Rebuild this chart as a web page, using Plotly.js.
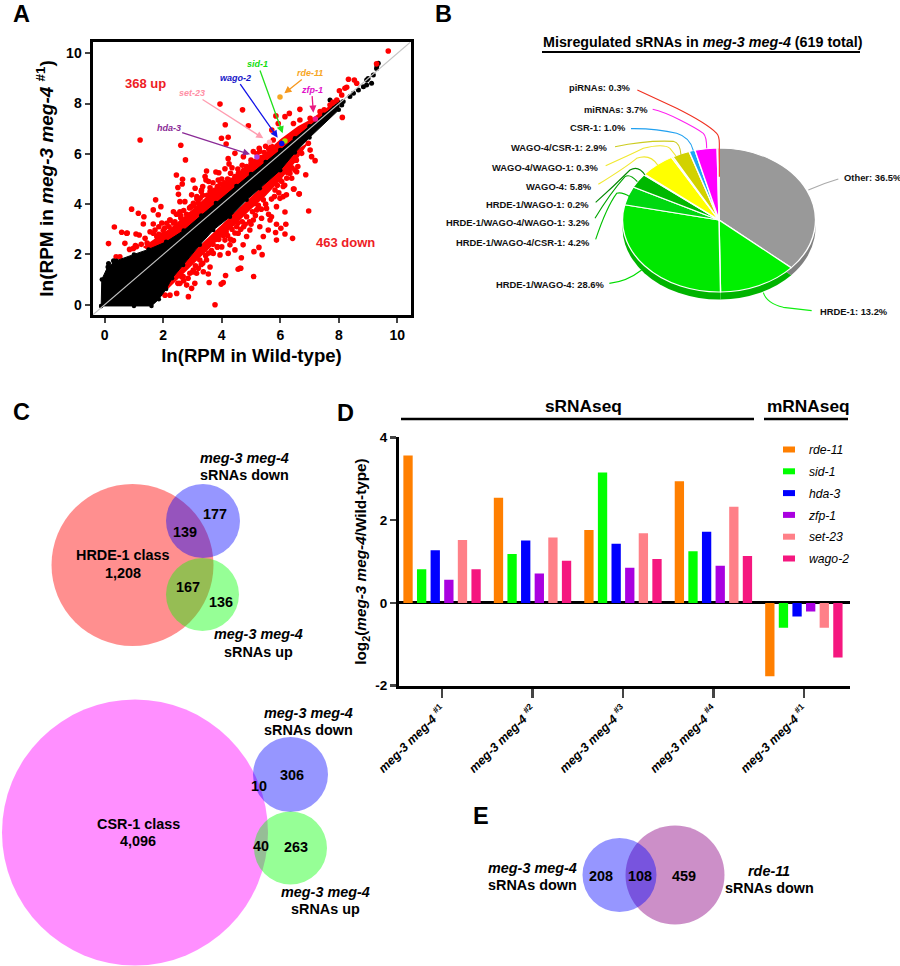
<!DOCTYPE html>
<html><head><meta charset="utf-8">
<script src="https://cdn.plot.ly/plotly-3.0.1.min.js"></script>
<style>html,body{margin:0;padding:0;background:#fff}</style>
</head><body><div id="chart" style="width:900px;height:966px"></div>
<script>
// ---------- Panel A values (ln RPM) ----------
const blackTopX=[-0.12,-0.1,0.1,0.4,1,1.5,2.1,2.7,3.3,3.8,4.5,5,5.5,6,6.5,7,7.5,8];
const blackTopY=[-0.05,1.0,1.5,1.75,2.0,2.2,2.5,2.95,3.55,4.05,4.72,5.2,5.68,6.15,6.62,7.1,7.6,8.05];
const blackLowX=[8,7,6.5,6,5.3,4.85,4.28,3.71,3.25,2.68,2.3,2.1,1.85,1.6,1,-0.12];
const blackLowY=[7.75,6.65,6.05,5.35,4.63,4.17,3.5,2.97,2.38,1.58,1.05,0.62,0.22,-0.05,-0.05,-0.05];
const blackTailX=[7.7,8.95,9.12,9.18,9.35,9.29,8.67,8.38,8.15,7.93,8.95,8.84,8.5,7.81,7.53,8.1,0.13,0.3,9.3,9.0];
const blackTailY=[8.14,8.74,8.81,9.14,9.6,9.4,8.54,8.28,8.08,7.88,8.94,8.67,8.41,7.81,7.61,7.94,1.64,1.75,9.5,9.0];
const upBandX=[1.3,1.8,2.3,2.92,3.6,4.17,4.85,5.53,6,6.6,7,7.5,8,8,7,6,5,4,3,2.1,1.5];
const upBandY=[2.3,2.7,3.1,3.72,4.42,4.9,5.5,6.08,6.58,7.1,7.35,7.75,8.2,8.0,7.05,6.1,5.15,3.75,3.1,2.45,2.15];
const lowBandX=[2.1,2.5,3,3.5,4,4.5,5,5.5,6,6.5,7,6.5,6,5,4,3.2,2.6,2];
const lowBandY=[0.55,1.0,1.55,2.15,2.72,3.22,3.8,4.32,4.95,5.65,6.5,6.1,5.4,4.3,3.2,2.3,1.5,0.65];
const redUpX=[1.21,2.6,2.76,4.12,4.91,3.99,4.22,4.15,4.22,4.45,4.74,5.08,5.28,2.45,2.66,2.65,3.02,2.5,3.48,3.8,4.11,3.43,3.46,3.88,4.3,4.57,4.91,3.09,3.31,3.77,2.52,2.57,2.74,2.97,1.74,0.92,1.15,1.66,1.92,1.34,1.83,1.32,0.33,0.58,0.77,1.07,1.18,1.38,1.66,1.72,2.23,2.57,3.03,3.26,3.6,3.94,4.71,0.52,0.39,0.98,1.09,0.69,0.13,0.75,1.66,1.78,2,2.35,2.12,2.23,2.9,3.15,3.7,4,4.35,4.7,5.0,5.2,3.35,3.55,3.9,4.25,2.8,2.6,2.35,2.05,1.85,1.55,1.25,0.85,1.05,1.45,
 2.95,3.05,3.2,3.15,3.35,3.5,3.6,3.75,3.85,3.95,4.1,4.2,4.3,4.45,4.6,4.55,4.75,4.85,5.0,5.15,5.35,5.45,5.6,5.7,2.7,2.6,2.4,2.2,2.0,1.85,1.95,2.45,3.3];
const redUpY=[6.55,6.34,5.76,7.16,7.12,6.62,6.66,6.39,5.81,6.02,5.89,6.09,6.22,5.16,4.99,4.8,4.96,4.66,5.32,5.28,5.41,5.1,4.96,4.96,5.23,5.23,5.36,4.63,4.56,4.54,4.39,4.1,4.1,4.37,4.17,3.8,3.64,3.77,3.9,3.5,3.58,3.21,3.09,2.88,2.85,2.81,2.77,2.64,3.21,2.97,3.37,3.7,4.03,4.23,4.5,7.98,7.75,1.91,1.91,2.24,2.31,2.44,2.43,2.84,2.84,2.71,2.77,3.7,3.24,3.37,3.85,4.2,4.85,5.0,5.45,5.55,5.75,6.0,4.7,4.9,5.25,5.6,3.6,3.45,3.25,3.05,3.1,2.9,2.4,2.2,2.35,2.45,
 3.9,3.95,4.05,4.3,4.35,4.35,4.65,4.55,4.7,4.8,4.85,5.0,4.95,5.1,5.25,5.4,5.35,5.5,5.6,5.7,5.85,6.05,6.2,6.3,3.75,3.55,3.3,3.1,2.95,2.8,3.25,3.6,4.5];
const redLowX=[6.97,6.87,6.65,6.47,6.16,6.42,6.19,5.87,6.02,6.16,5.84,5.87,5.42,5.27,5.1,5.38,4.67,4.65,4.56,5.09,4.13,4.05,3.98,3.57,3.08,3.37,3.54,2.91,2.68,3.94,4.22,4.45,4.73,4.96,5.3,5.59,5.65,5.36,5.08,4.85,4.56,4.28,3.71,3.48,3.25,3.03,5.99,6.21,5.87,5.53,5.19,4.85,4.51,4.11,6.33,6.56,6.1,5.82,5.59,5.42,5.13,5.99,2.57,2.8,2.86,3.77,2.23,2.46,2.06,2.63,3.14,4.62,6.96,7.02,7.07,7.19,6.73,6.45,8.12,6.33,6.5,6.39,6.22,6.1,6.45,6.64,2.97,3.3,3.6,3.85,4.15,4.4,4.75,5.0,5.25,5.7,3.4,3.8,4.4,4.9,
 2.5,2.7,2.85,3.0,3.1,3.2,3.35,3.45,3.55,3.65,3.7,3.85,3.9,4.0,4.05,4.2,4.3,4.35,4.45,4.55,4.65,4.7,4.8,4.95,5.05,5.15,5.25,5.35,5.5,5.6,5.7,5.8,5.9,5.95,6.05,6.15,6.25,6.4,6.55,6.6];
const redLowY=[3.73,5.17,4.41,4.6,3.69,2.64,3.2,3.2,3.04,2.81,2.87,2.57,2.71,2.28,2.11,1.99,1.87,1.45,1.41,1.12,1.16,0.88,0.82,0.88,0.85,1.31,1.22,1.25,1.12,1.98,2.04,2.18,2.38,2.97,3.1,2.97,3.37,3.44,3.37,2.71,2.84,2.38,2.04,1.78,1.78,1.38,4.23,4.37,3.9,3.83,3.77,3.5,3.1,2.57,5.23,5.29,4.7,4.56,4.83,4.17,4.03,4.96,0.85,0.78,0.32,0,0.38,0.45,0.38,1.11,1.25,1.45,6.42,6.15,5.89,5.73,6.02,5.76,7.45,5.42,5.36,5.03,5.03,4.3,4.6,4.4,0.65,1.6,1.5,2.3,2.9,2.55,3.1,3.2,4.4,3.5,2.2,2.6,3.55,3.95,
 0.85,0.95,1.05,1.3,1.55,1.45,1.65,1.95,2.05,2.15,2.4,2.3,2.6,2.3,2.75,2.75,2.6,3.0,2.85,3.25,3.0,3.3,3.2,3.3,3.7,3.55,3.95,3.8,4.0,3.6,4.2,4.3,4.75,4.45,4.9,4.75,5.25,5.45,5.75,5.5];
const redTopX=[9.69,9.29,8.33,8.53,8.61,8.02,8.27,8.1,8.21,7.93,7.7,7.36,6.67,6.16,6.31,5.85,5.93,5.71,6.45,6.67,7.02,5.76,7.5,7.8,5.5,5.3];
const redTopY=[10.09,9.58,8.97,8.94,8.81,8.51,8.65,8.34,8.61,8.14,7.94,7.68,7.77,7.48,7.61,7.51,7.21,6.95,7.21,7.35,7.41,6.55,7.75,8.05,6.3,6.1];
const geneNames=['rde-11','sid-1','wago-2','set-23','hda-3','zfp-1'];
const geneX=[5.99,6.16,6.05,5.63,5.2,7.2];
const geneY=[8.26,6.51,6.41,6.46,5.88,7.39];
const upCount='368 up', downCount='463 down';

// ---------- Panel B values ----------
const pieLabels=['Other','HRDE-1','HRDE-1/WAGO-4','HRDE-1/WAGO-4/CSR-1','HRDE-1/WAGO-4/WAGO-1','HRDE-1/WAGO-1','WAGO-4','WAGO-4/WAGO-1','WAGO-4/CSR-1','CSR-1','miRNAs','piRNAs'];
const pieValues=[36.5,13.2,28.6,4.2,3.2,0.2,5.8,0.3,2.9,1.0,3.7,0.3];

// ---------- Panel C / E counts ----------
const hrdeCounts=['1,208','139','177','167','136'];
const csrCounts=['4,096','10','306','40','263'];
const rdeCounts=['208','108','459'];

// ---------- Panel D values ----------
const barGenes=['rde-11','sid-1','hda-3','zfp-1','set-23','wago-2'];
const rde11=[3.56,2.54,1.76,2.94,-1.77];
const sid1=[0.81,1.18,3.15,1.25,-0.6];
const hda3=[1.27,1.51,1.43,1.72,-0.33];
const zfp1=[0.56,0.71,0.85,0.9,-0.21];
const set23=[1.52,1.58,1.68,2.32,-0.6];
const wago2=[0.81,1.02,1.06,1.13,-1.32];
const sampleIdx=[0,1,2,3,4];
const sampleLabels=['#1','#2','#3','#4','#1'];

// ---------- helpers ----------
const W=900,H=966,FONT='"Liberation Sans",Arial,sans-serif';
const PX=x=>x/W, PY=y=>1-y/H;
const annotations=[], shapes=[];
function T(x,y,text,size,color,anchor){annotations.push({xref:'paper',yref:'paper',x:PX(x),y:PY(y),text,showarrow:false,xanchor:anchor||'center',yanchor:'middle',font:{size:size||13,color:color||'#000',family:FONT}});}
function B(s){return '<b>'+s+'</b>';}
function BI(s){return '<b><i>'+s+'</i></b>';}
function circle(cx,cy,r,fill){shapes.push({type:'circle',xref:'paper',yref:'paper',x0:PX(cx-r),x1:PX(cx+r),y0:PY(cy+r),y1:PY(cy-r),fillcolor:fill,line:{width:0},layer:'above'});}
function rule(x0,y,x1,w){shapes.push({type:'line',xref:'paper',yref:'paper',x0:PX(x0),x1:PX(x1),y0:PY(y),y1:PY(y),line:{color:'#000',width:w||2},layer:'above'});}
function leader(d,color){let i=0;const p=d.replace(/-?\d+(\.\d+)?/g,m=>{const v=+m;const o=(i++%2===0)?PX(430+v/3):PY(v/3);return o.toFixed(5);});
 shapes.push({type:'path',xref:'paper',yref:'paper',path:p,line:{color,width:1.1},layer:'above'});}

// ---------- letters ----------
[['A',21,14],['B',443,14],['C',21,412],['D',345,413],['E',481,816]].forEach(a=>T(a[1],a[2],B(a[0]),23.5));

// ---------- Panel A annotations ----------
T(145,83,B(upCount),13,'#ee1c25');T(345,243,B(downCount),13,'#ee1c25');
const geneColors=['#f7a623','#a8e000','#0a0ae6','#ffb3bd','#b040e0','#f0188c'];
const arrowColors=['#f7981d','#22e01c','#1414e8','#ff9db0','#8a2a96','#ea1a80'];
const textColors=['#f7a623','#10dd10','#1414c8','#ff8fa5','#8a2a96','#e010c8'];
const arrows=[[930,219,853,280],[773,192,848,400],[707,233,833,413],[577,279,790,415],[506,385,750,463],[935,269,940,338]];
arrows.forEach((a,i)=>{annotations.push({xref:'x',yref:'y',x:(a[2]-314)/87.8,y:(914-a[3])/75.4,ax:(a[0]-a[2])/3,ay:(a[1]-a[3])/3,axref:'pixel',ayref:'pixel',
 text:BI(geneNames[i]),showarrow:true,arrowhead:2,arrowsize:1.1,arrowwidth:1.3,arrowcolor:arrowColors[i],standoff:0,font:{size:9,color:textColors[i],family:FONT}});});

// ---------- Panel B text ----------
T(703,42,B('Misregulated sRNAs in <i>meg-3 meg-4</i> (619 total)'),14.3);
rule(542,52,860,2);
const pieLabelPos=[[842,178,'left'],[818,311,'left'],[606,284,'right'],[592,242,'right'],[592,222,'right'],[591,205,'right'],[594,186,'right'],[600,167.5,'right'],[610,147.5,'right'],[628,128,'right'],[650,109,'right'],[633,87,'right']];
pieLabels.forEach((l,i)=>{const p=pieLabelPos[i];T(p[0],p[1],B(l+': '+pieValues[i].toFixed(1)+'%'),9.4,'#111',p[2]);});
leader('M622 270 L740 325 Q830 370 860 400 Q868 408 868 430 L868 530','#f03020');
leader('M668 328 Q700 335 750 360 Q800 385 820 400 Q830 410 830 445','#ff20f0');
leader('M603 386 Q680 385 740 400 Q780 412 790 452','#20a0f0');
leader('M555 440 Q650 420 730 424 Q750 428 753 465','#cccc20');
leader('M527 497 Q600 465 640 445 Q700 430 720 445 L738 468','#f0e830');
leader('M505 553 Q590 500 620 475 Q660 460 683 495','#f0e830');
leader('M497 607 Q550 560 600 510 Q625 495 645 525','#008800');
leader('M495 655 Q540 580 585 530 Q600 520 622 545','#00a400');
leader('M497 718 Q530 620 560 580 Q575 575 600 590','#00c000');
leader('M538 850 Q590 845 635 810','#00dd00');
leader('M1000 878 Q1010 910 1060 922 L1145 932','#10ee10');
leader('M1135 570 Q1180 550 1225 537','#aaaaaa');

// ---------- Panel C and E ----------
const RED='rgba(255,0,0,0.44)',BLU='rgba(0,0,255,0.41)',GRN='rgba(0,255,0,0.41)',MAG='rgba(255,0,255,0.44)',PUR='rgba(139,0,130,0.44)';
circle(132.5,565,81,RED);circle(203,521,37,BLU);circle(202.5,594.5,36.5,GRN);
circle(135,832.5,133,MAG);circle(290.5,774.5,37.5,BLU);circle(290.5,848,36.5,GRN);
circle(675,875,49.5,PUR);circle(619.5,875,37,BLU);
const VS=14.4;
T(123,555,B('HRDE-1 class'),VS);T(123,573,B(hrdeCounts[0]),VS);T(185,532,B(hrdeCounts[1]),VS);T(215,514,B(hrdeCounts[2]),VS);T(188,587,B(hrdeCounts[3]),VS);T(221,602,B(hrdeCounts[4]),VS);
T(244,458,BI('meg-3 meg-4'),VS);T(244,475,B('sRNAs down'),VS);T(258,634,BI('meg-3 meg-4'),VS);T(258,652,B('sRNAs up'),VS);
T(138,824,B('CSR-1 class'),VS);T(138,841,B(csrCounts[0]),VS);T(259,786,B(csrCounts[1]),VS);T(292,775,B(csrCounts[2]),VS);T(261,846,B(csrCounts[3]),VS);T(296,847,B(csrCounts[4]),VS);
T(308,713,BI('meg-3 meg-4'),VS);T(308,730,B('sRNAs down'),VS);T(325,892,BI('meg-3 meg-4'),VS);T(325,909,B('sRNAs up'),VS);
T(601,876,B(rdeCounts[0]),VS);T(640,876,B(rdeCounts[1]),VS);T(684,876,B(rdeCounts[2]),VS);
T(532,868,BI('meg-3 meg-4'),VS);T(532,885,B('sRNAs down'),VS);T(769,871,BI('rde-11'),VS);T(769,888,B('sRNAs down'),VS);

// ---------- Panel D headers ----------
T(583,406,B('sRNAseq'),17.3);T(808,406,B('mRNAseq'),17.3);
rule(401,419,754,2.5);rule(764,419,848,2.5);

// ---------- traces ----------
const dotA={size:5.6,color:'#ff0000'};
const traces=[
 {type:'scatter',mode:'lines',x:upBandX,y:upBandY,fill:'toself',fillcolor:'#ff0000',line:{width:0,color:'#ff0000'},hoverinfo:'skip',showlegend:false},
 {type:'scatter',mode:'lines',x:lowBandX,y:lowBandY,fill:'toself',fillcolor:'#ff0000',line:{width:0,color:'#ff0000'},hoverinfo:'skip',showlegend:false},
 {type:'scatter',mode:'markers',x:redUpX,y:redUpY,marker:dotA,showlegend:false},
 {type:'scatter',mode:'markers',x:redLowX,y:redLowY,marker:dotA,showlegend:false},
 {type:'scatter',mode:'lines+markers',x:blackTopX.concat(blackLowX),y:blackTopY.concat(blackLowY),fill:'toself',fillcolor:'#000',line:{color:'#000',width:1},marker:{size:4.5,color:'#000'},showlegend:false},
 {type:'scatter',mode:'markers',x:blackTailX,y:blackTailY,marker:{size:5,color:'#000'},showlegend:false},
 {type:'scatter',mode:'markers',x:redTopX,y:redTopY,marker:dotA,showlegend:false},
 {type:'scatter',mode:'lines',x:[-0.42,10.45],y:[-0.42,10.45],line:{color:'#c4c4c4',width:1.1},hoverinfo:'skip',showlegend:false},
 {type:'scatter',mode:'markers',x:geneX,y:geneY,marker:{size:5.5,color:geneColors},text:geneNames,showlegend:false}
];
const topColors=['#999999','#00f000','#00e800','#00d810','#00b800','#00a000','#ffff00','#e8e800','#d2d200','#1ea7f5','#ff00ff','#ff3020'];
const sideColors=['#808080','#00b400','#00b400','#00a000','#009000','#008000','#c8c800','#b0b000','#a0a000','#1080c0','#c000c0','#c02010'];
const CX=719,CY=220,R=96.5,DROP=7.5;
const dom=(dy)=>({x:[PX(CX-R),PX(CX+R)],y:[PY(CY+dy+R),PY(CY+dy-R)]});
traces.push({type:'pie',values:pieValues,labels:pieLabels,sort:false,direction:'clockwise',rotation:0,textinfo:'none',hoverinfo:'skip',showlegend:false,domain:dom(DROP),marker:{colors:sideColors,line:{width:0}}});
traces.push({type:'pie',values:pieValues,labels:pieLabels,sort:false,direction:'clockwise',rotation:0,textinfo:'none',showlegend:false,domain:dom(0),marker:{colors:topColors,line:{color:'#fff',width:1.4}}});
const barSeries=[rde11,sid1,hda3,zfp1,set23,wago2];
const barColors=['#ff7f00','#00ff00','#0000ff','#aa00e0','#ff8088','#f5177f'];
barSeries.forEach((v,i)=>traces.push({type:'bar',x:sampleIdx,y:v,name:'<i>'+barGenes[i]+'</i>',legendgroup:barGenes[i],xaxis:'x2',yaxis:'y2',marker:{color:barColors[i]}}));

const layout={width:W,height:H,margin:{l:0,r:0,t:0,b:0},paper_bgcolor:'#fff',plot_bgcolor:'#fff',font:{family:FONT,color:'#000'},
 barmode:'group',bargap:0.097,bargroupgap:0.316,
 annotations,shapes,
 xaxis:{domain:[PX(92.5),PX(410.5)],range:[-0.417,10.45],anchor:'y',showgrid:false,zeroline:false,showline:true,mirror:true,linecolor:'#000',linewidth:3,ticks:'outside',ticklen:5,tickwidth:2,tickvals:[0,2,4,6,8,10],ticktext:['0','2','4','6','8','10'].map(B),tickfont:{size:14,family:FONT},title:{text:B('ln(RPM in Wild-type)'),font:{size:18.6,family:FONT},standoff:8}},
 yaxis:{domain:[PY(315),PY(42)],range:[-0.41,10.45],anchor:'x',showgrid:false,zeroline:false,showline:true,mirror:true,linecolor:'#000',linewidth:3,ticks:'outside',ticklen:5,tickwidth:2,tickvals:[0,2,4,6,8,10],ticktext:['0','2','4','6','8','10'].map(B),tickfont:{size:14,family:FONT},title:{text:B('ln(RPM in <i>meg-3 meg-4</i> <sup>#1</sup>)'),font:{size:19,family:FONT},standoff:8}},
 xaxis2:{domain:[PX(399),PX(850)],range:[-0.476,4.51],anchor:'y2',showgrid:false,zeroline:false,showline:true,linecolor:'#000',linewidth:3,ticks:'outside',ticklen:9,tickwidth:2.5,tickvals:sampleIdx,ticktext:sampleLabels.map(s=>BI('meg-3 meg-4')+' <b><sup>'+s+'</sup></b>'),tickangle:-45,tickfont:{size:12.3,family:FONT}},
 yaxis2:{domain:[PY(685.7),PY(437.3)],range:[-2,4],anchor:'x2',showgrid:false,zeroline:true,zerolinecolor:'#000',zerolinewidth:3,showline:true,linecolor:'#000',linewidth:3,ticks:'outside',ticklen:6,tickwidth:2.5,tickvals:[-2,0,2,4],ticktext:['-2','0','2','4'].map(B),tickfont:{size:13.5,family:FONT},title:{text:B('log<sub>2</sub>(<i>meg-3 meg-4</i>/Wild-type)'),font:{size:15.3,family:FONT},standoff:5}},
 showlegend:true,
 legend:{x:PX(769),y:PY(435),xanchor:'left',yanchor:'top',bgcolor:'rgba(0,0,0,0)',font:{size:12.2,family:FONT},tracegroupgap:2.8,itemwidth:30}
};
Plotly.newPlot('chart',traces,layout,{displayModeBar:false,staticPlot:true}).then(()=>{
 const tr=document.querySelectorAll('.pielayer .trace');
 const sy=72/96.5;
 tr.forEach((g,i)=>{const dy=i===0?DROP:0;const c=CY+dy;g.setAttribute('transform','translate(0,'+c+') scale(1,'+sy+') translate(0,'+(-c)+')');});
 document.querySelectorAll('.legend .legendpoints path').forEach(p=>{p.setAttribute('transform',(p.getAttribute('transform')||'')+' scale(1,0.5)');});
});
</script></body></html>
